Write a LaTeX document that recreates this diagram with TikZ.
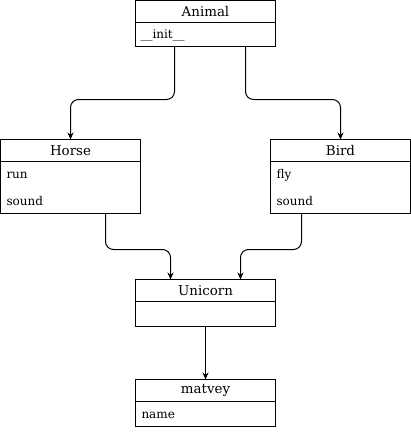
\documentclass[tikz,border=0pt]{standalone}
\usepackage{fontspec}
\setmainfont{DejaVu Serif}
\usetikzlibrary{positioning,arrows.meta}

\begin{document}
\begin{tikzpicture}[x=1pt,y=-1pt,line width=1pt,
    head/.style={draw,minimum width=140pt,minimum height=22pt,inner sep=0pt,outer sep=0pt,font=\fontsize{13.4}{15}\selectfont},
    body/.style={draw,minimum width=140pt,inner sep=0pt,outer sep=0pt,anchor=north},
    attr/.style={anchor=west,inner sep=0pt,font=\fontsize{12}{14}\selectfont},
    link/.style={-{Stealth[length=7pt,width=6pt]},rounded corners=8pt}]
  \useasboundingbox (0,0) rectangle (411,432);
  % Animal
  \node[head](animal) at (205.5,11.5) {Animal};
  \node[body,minimum height=24pt](animalb) at (animal.south) {};
  \node[attr](init) at (140,35) {\_\_init\_\_};
  % Horse
  \node[head](horse) at (70.5,150.5) {Horse};
  \node[body,minimum height=52pt](horseb) at (horse.south) {};
  \node[attr](run) at (6,175) {run};
  \node[attr](hsound) at (6,201) {sound};
  % Bird
  \node[head](bird) at (340.5,150.5) {Bird};
  \node[body,minimum height=52pt](birdb) at (bird.south) {};
  \node[attr](fly) at (276,175) {fly};
  \node[attr](bsound) at (276,201) {sound};
  % Unicorn
  \node[head](unicorn) at (205.5,290.5) {Unicorn};
  \node[body,minimum height=25pt](unicornb) at (unicorn.south) {};
  % matvey
  \node[head](matvey) at (205.5,390.5) {matvey};
  \node[body,minimum height=25pt](matveyb) at (matvey.south) {};
  \node[attr](name) at (141,415) {name};
  % links
  \draw[link] ([xshift=-31pt]animalb.south) -- ++(0,53) -| (horse.north);
  \draw[link] ([xshift=40pt]animalb.south) -- ++(0,53) -| (bird.north);
  \draw[link] ([xshift=35pt]horseb.south) -- ++(0,36) -| ([xshift=-35pt]unicorn.north);
  \draw[link] ([xshift=-39pt]birdb.south) -- ++(0,36) -| ([xshift=35pt]unicorn.north);
  \draw[link] (unicornb.south) -- (matvey.north);
\end{tikzpicture}
\end{document}
